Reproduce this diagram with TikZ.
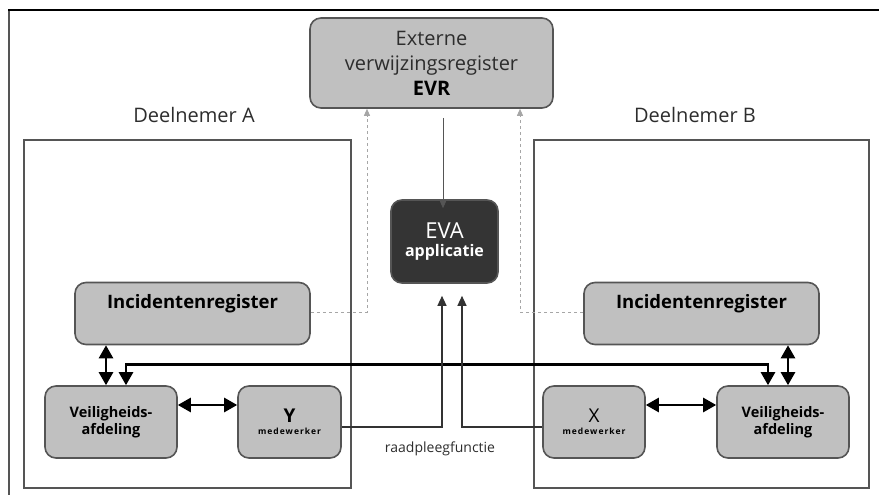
\documentclass[tikz,border=0pt]{standalone}
\usepackage{fontspec}
\setmainfont{Open Sans}
\usetikzlibrary{arrows.meta,positioning,calc}
\definecolor{cBox} {RGB}{192,192,192}
\definecolor{cEdge}{RGB}{85,85,85}
\definecolor{cEva} {RGB}{52,52,52}
\definecolor{cText}{RGB}{45,45,45}
\tikzset{
  regbox/.style={draw=cEdge,line width=1.6pt,fill=cBox,rounded corners=11pt,
                 inner sep=0pt,align=center},
  evabox/.style={regbox,fill=cEva,text=white},
  party/.style={draw=cEdge,line width=1.4pt,inner sep=0pt},      % deelnemer frame
  ptitle/.style={font=\fontsize{20}{24}\selectfont,text=cText,anchor=base},
  both/.style={{Triangle[length=13pt,width=14pt]}-{Triangle[length=13pt,width=14pt]},
               line width=2.6pt},                                  % thick two-way link
  feed/.style={-{Triangle[length=10pt,width=9pt]},draw=black!80,line width=1.3pt},
  query/.style={-{Triangle[length=7pt,width=6pt]},draw=cEdge,line width=0.8pt},
  refer/.style={-{Triangle[length=7pt,width=6pt]},draw=gray!70,dashed,line width=0.9pt},
}

\begin{document}
\begin{tikzpicture}[x=1pt,y=-1pt]
  \useasboundingbox (0,0) rectangle (879,495);
  % ---- outer frame ----
  \draw[cEdge,line width=1.5pt] (9,495) -- (9,10);
  \draw[black,line width=2pt] (8,10) -- (879,10);

  % ---- deelnemers ----
  \node[party,minimum width=327pt,minimum height=348pt] (partA) at (187.5,314) {};
  \node[party,minimum width=335pt,minimum height=348pt] (partB) at (701.5,314) {};
  \node[ptitle] (lblA) at (194,123) {Deelnemer A};
  \node[ptitle] (lblB) at (695,123) {Deelnemer B};

  % ---- central registers ----
  \node[regbox,minimum width=243pt,minimum height=90pt,
        font=\fontsize{20}{25}\selectfont,text=cText] (evr) at (431.5,63)
        {Externe\\verwijzingsregister\\{\bfseries\color{black}EVR}};
  \node[evabox,minimum width=107pt,minimum height=83pt] (eva) at (444.5,241.5)
        {{\fontsize{22}{22}\selectfont EVA}\\[4pt]{\bfseries\fontsize{16}{18}\selectfont applicatie}};

  % ---- incidentenregisters ----
  \node[regbox,minimum width=235pt,minimum height=62pt,inner ysep=11pt,
        text height=15pt,text depth=25pt,
        font=\bfseries\fontsize{18.5}{22}\selectfont] (incA) at (192.5,313.5) {Incidentenregister};
  \node[regbox,minimum width=235pt,minimum height=62pt,inner ysep=11pt,
        text height=15pt,text depth=25pt,
        font=\bfseries\fontsize{18.5}{22}\selectfont] (incB) at (701.5,313.5) {Incidentenregister};

  % ---- afdelingen en medewerkers ----
  \node[regbox,minimum width=132pt,minimum height=72pt,
        font=\bfseries\fontsize{14.5}{17}\selectfont] (veilA) at (111,422) {Veiligheids-\\afdeling};
  \node[regbox,minimum width=132pt,minimum height=72pt,
        font=\bfseries\fontsize{14.5}{17}\selectfont] (veilB) at (783,422) {Veiligheids-\\afdeling};
  \node[regbox,minimum width=103pt,minimum height=72pt] (medY) at (289.5,422)
        {{\bfseries\fontsize{19}{20}\selectfont Y}\\[0pt]{\bfseries\fontsize{8.5}{10}\selectfont\addfontfeatures{LetterSpace=12}medewerker}};
  \node[regbox,minimum width=102pt,minimum height=72pt] (medX) at (594,422)
        {{\fontsize{19}{20}\selectfont X}\\[0pt]{\bfseries\fontsize{8.5}{10}\selectfont\addfontfeatures{LetterSpace=12}medewerker}};

  % ---- links ----
  \draw[both] ([xshift=-5pt]veilA.north) -- ([xshift=-5pt]veilA.north |- incA.south);
  \draw[both] ([xshift=5pt]veilB.north) -- ([xshift=5pt]veilB.north |- incB.south);
  \draw[both] ([xshift=15pt]veilA.north) -- ++(0,-21) -| ([xshift=-15pt]veilB.north);
  \draw[both] ([yshift=17pt]veilA.east) -- ([yshift=17pt]medY.west);
  \draw[both] ([yshift=17pt]medX.east) -- ([yshift=17pt]veilB.west);

  % raadpleegfunctie
  \draw[feed] ([yshift=-5pt]medY.east) -| ([xshift=-2.5pt,yshift=-12pt]eva.south);
  \draw[feed] ([yshift=-5pt]medX.west) -| ([xshift=17.5pt,yshift=-12pt]eva.south);
  \node[font=\fontsize{14}{16}\selectfont,text=cText,anchor=base] (rdp) at (440,452) {raadpleegfunctie};

  \draw[query] ([xshift=11.5pt,yshift=-9pt]evr.south) -- ([xshift=11.5pt,yshift=-9pt]evr.south |- eva.north);
  \draw[refer] ([yshift=1.5pt]incA.east) -| ([xshift=-64.5pt]evr.south);
  \draw[refer] ([yshift=1.5pt]incB.west) -| ([xshift=88.5pt]evr.south);
\end{tikzpicture}
\end{document}
